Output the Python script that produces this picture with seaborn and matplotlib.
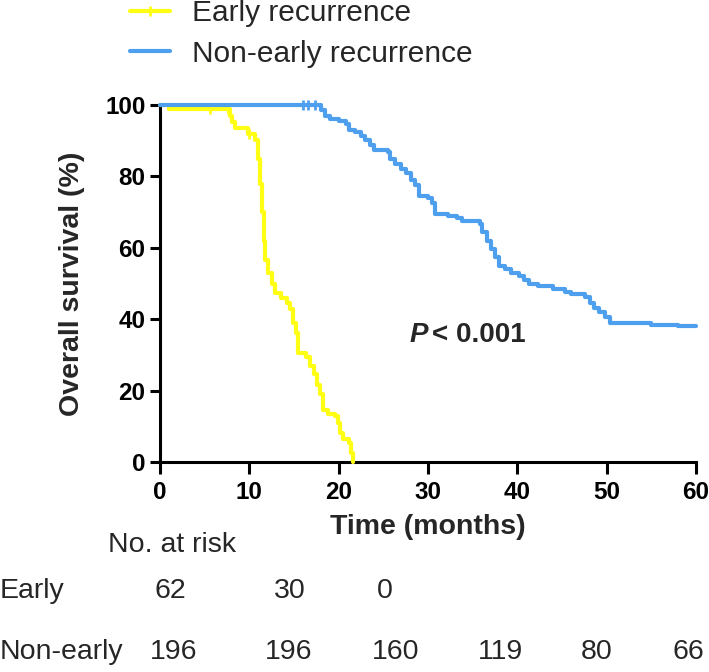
import matplotlib
matplotlib.use("Agg")
import matplotlib.pyplot as plt
from matplotlib.lines import Line2D
import numpy as np
import pandas as pd
import seaborn as sns

sns.set_theme(style="ticks")
plt.rcParams["font.family"] = ["Liberation Sans", "DejaVu Sans"]

# Kaplan-Meier steps (months, % surviving)
early_time = [0, 1.0, 7.8, 8.1, 8.4, 9.8, 10.6, 11.0, 11.2, 11.4, 11.6, 11.8, 12.1, 12.5,
              12.9, 13.5, 14.2, 14.6, 14.9, 15.2, 15.5, 16.3, 16.8, 17.2, 17.6, 17.9,
              18.2, 18.8, 19.6, 19.9, 20.2, 20.5, 21.2, 21.4, 21.6]
early_surv = [100, 98.9, 96.8, 95.2, 93.5, 91.9, 90.3, 85.0, 78.0, 70.0, 62.0, 56.5, 53.0, 50.0,
              47.3, 46.0, 44.5, 42.9, 39.0, 36.0, 30.5, 29.5, 27.0, 24.6, 21.5, 19.0,
              14.5, 13.5, 12.9, 11.0, 8.0, 6.5, 5.3, 2.5, 0]
early_censor = [5.6, 7.6, 10.0]

late_time = [0, 18.0, 18.5, 19.0, 20.0, 20.8, 21.2, 21.8, 22.5, 23.0, 23.5, 23.9, 25.5, 25.8,
             26.3, 27.0, 27.5, 28.1, 28.6, 29.0, 30.0, 30.4, 30.8, 32.2, 33.2, 33.8, 35.8,
             36.1, 36.6, 37.1, 37.5, 37.9, 38.6, 39.3, 40.2, 40.8, 41.3, 42.3, 44.0, 45.3,
             46.0, 47.6, 48.1, 48.6, 49.1, 49.8, 50.4, 55.0, 58.0, 60.0]
late_surv = [100, 98.5, 97.0, 96.0, 95.4, 94.7, 93.0, 92.3, 91.3, 90.3, 88.8, 87.4, 86.9, 85.0,
             83.6, 82.1, 81.0, 79.1, 77.7, 74.6, 74.0, 72.6, 69.6, 68.9, 68.4, 67.4, 66.6,
             64.5, 62.0, 59.7, 57.3, 55.0, 54.0, 53.0, 52.0, 51.0, 50.0, 49.3, 48.5, 47.7,
             47.0, 46.3, 44.6, 43.2, 42.0, 40.6, 38.8, 38.5, 38.2, 38.2]
late_censor = [16.0, 16.6, 17.3]

group_names = ["Early recurrence", "Non-early recurrence"]
risk_rows = ["Early", "Non-early"]
early_at_risk = [62, 30, 0]
late_at_risk = [196, 196, 160, 119, 80, 66]

yellow = "#FFFF14"
blue = "#4F9FEF"

W, H = 709, 672
fx = lambda px: px / W
fy = lambda py: 1 - py / H

fig = plt.figure(figsize=(W / 100, H / 100), dpi=100)
ax = fig.add_axes([fx(160), fy(462), 536 / W, 357 / H])


def surv_at(times, surv, t):
    idx = np.searchsorted(times, t, side="right") - 1
    return surv[idx]


for times, surv, cens, col in [
    (early_time, early_surv, early_censor, yellow),
    (late_time, late_surv, late_censor, blue),
]:
    df = pd.DataFrame({"time": times, "surv": surv})
    sns.lineplot(data=df, x="time", y="surv", drawstyle="steps-post", estimator=None,
                 sort=False, color=col, lw=3, ax=ax, clip_on=False, zorder=3)
    ax.plot(cens, [surv_at(times, surv, t) for t in cens], ls="none", marker="|",
            ms=7, mew=2, color=col, clip_on=False, zorder=3)

ax.set_xlim(0, 60)
ax.set_ylim(0, 100)
ax.set_xticks(range(0, 61, 10))
ax.set_yticks(range(0, 101, 20))
sns.despine(ax=ax)
for s in ["left", "bottom"]:
    ax.spines[s].set_linewidth(2.2)
    ax.spines[s].set_color("black")
ax.tick_params(axis="both", direction="out", width=2.2, colors="black", labelsize=17.5)
ax.tick_params(axis="y", length=7.5, pad=3)
ax.tick_params(axis="x", length=8.5, pad=5)
for lab in ax.get_xticklabels() + ax.get_yticklabels():
    lab.set_fontweight("bold")

ax.set_xlabel("Time (months)", fontsize=20.5, fontweight="bold")
ax.set_ylabel("Overall survival (%)", fontsize=20.5, fontweight="bold")
ax.xaxis.label.set_va("center")
ax.yaxis.label.set_va("center")
ax.xaxis.set_label_coords(0.5, (462 - 527) / 357)
ax.yaxis.set_label_coords((72 - 160) / 536, 0.5)

fig.text(fx(410), fy(335), "P", fontsize=20, fontweight="bold", style="italic",
         ha="left", va="center")
fig.text(fx(432), fy(335), "< 0.001", fontsize=20, fontweight="bold",
         ha="left", va="center")

handles = [
    Line2D([], [], color=yellow, lw=3, marker="|", ms=7, mew=2),
    Line2D([], [], color=blue, lw=3),
]
fig.legend(handles, group_names, loc="upper left", bbox_to_anchor=(fx(130), fy(-1)),
           frameon=False, borderpad=0, borderaxespad=0, handlelength=1.34,
           handletextpad=0.74, labelspacing=0.43,
           prop={"family": "Liberation Sans", "size": 21.5})

# number at risk table
table_font = {"family": "Liberation Sans", "size": 20.5}
fig.text(fx(108), fy(545), "No. at risk", ha="left", va="center", fontdict=table_font)
fig.text(fx(0), fy(591), risk_rows[0], ha="left", va="center", fontdict=table_font)
fig.text(fx(0), fy(652), risk_rows[1], ha="left", va="center", fontdict=table_font)
early_x = [170, 290, 385]
late_x = [174, 289, 396, 501, 597, 688]
for n, px in zip(early_at_risk, early_x):
    fig.text(fx(px), fy(591), str(n), ha="center", va="center", fontdict=table_font)
for n, px in zip(late_at_risk, late_x):
    fig.text(fx(px), fy(652), str(n), ha="center", va="center", fontdict=table_font)

fig.savefig("out.png", dpi=100, facecolor="white")
